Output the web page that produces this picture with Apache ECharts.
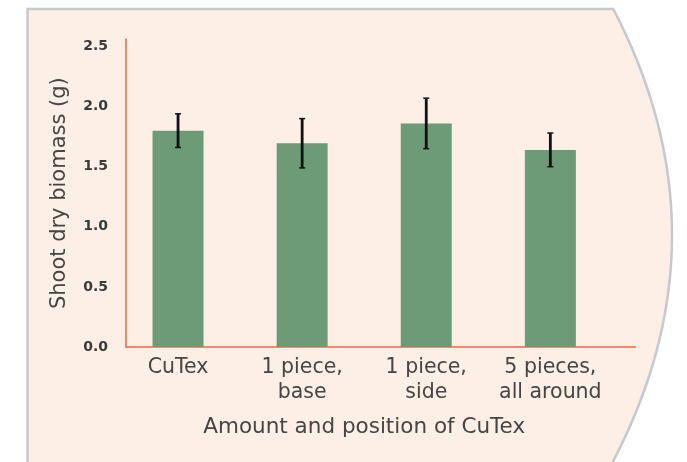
<!DOCTYPE html>
<html>
<head>
<meta charset="utf-8">
<script src="https://cdn.jsdelivr.net/npm/echarts@6/dist/echarts.min.js"></script>
<style>
  html, body { margin: 0; padding: 0; background: #ffffff; }
  #chart { width: 687px; height: 462px; }
</style>
</head>
<body>
<div id="chart"></div>
<script>
// ---- data ----
const categories = ['CuTex', '1 piece,\nbase', '1 piece,\nside', '5 pieces,\nall around'];
const biomass = [1.80, 1.695, 1.86, 1.64];
const errors = [0.14, 0.205, 0.21, 0.14];
const yTicks = [0, 0.5, 1.0, 1.5, 2.0, 2.5];

const FONT = 'DejaVu Sans';
const TEXT = '#454545';
const AXIS = '#ee6a44';
const YMAX = 2.56;

// background panel outline (decoration, not data)
const curve = [];
for (let y = 9; y <= 472; y += 4) {
  curve.push([672 - (y - 235) * (y - 235) / 870, y]);
}
const outline = [[27.5, 472], [27.5, 9]].concat(curve);

const chart = echarts.init(document.getElementById('chart'), null, { renderer: 'canvas' });

const errData = biomass.map((m, i) => [i, m, errors[i]]);

const option = {
  backgroundColor: '#ffffff',
  animation: false,
  graphic: [
    {
      type: 'polygon', z: -10, silent: true,
      shape: { points: outline },
      style: { fill: '#fdeee6' }
    },
    {
      type: 'polyline', z: -9, silent: true,
      shape: { points: outline },
      style: { fill: null, stroke: '#c3c9cc', lineWidth: 2.5 }
    }
  ],
  grid: [
    { left: 116, width: 496.4, top: 39.3, bottom: 115 },
    { left: 126, right: 51.5, top: 39.3, bottom: 115 }
  ],
  xAxis: [
    {
      type: 'category', gridIndex: 0, data: categories,
      axisLine: { show: false }, axisTick: { show: false },
      axisLabel: {
        margin: 8, color: TEXT, fontFamily: FONT, fontSize: 20.5, lineHeight: 25, interval: 0
      },
      name: 'Amount and position of CuTex',
      nameLocation: 'middle', nameGap: 69,
      nameTextStyle: { color: TEXT, fontFamily: FONT, fontSize: 21.5 }
    },
    {
      type: 'value', gridIndex: 1, min: 0, max: 1,
      axisLine: { show: true, lineStyle: { color: AXIS, width: 1.5 } },
      axisTick: { show: false }, axisLabel: { show: false }, splitLine: { show: false }
    }
  ],
  yAxis: [
    {
      type: 'value', gridIndex: 0, min: 0, max: YMAX,
      show: false, splitLine: { show: false }
    },
    {
      type: 'value', gridIndex: 1, min: 0, max: YMAX, interval: 0.5,
      axisLine: { show: true, lineStyle: { color: AXIS, width: 1.5 } },
      axisTick: { show: false }, splitLine: { show: false },
      axisLabel: {
        margin: 18, color: '#3a3a3a', fontFamily: FONT, fontSize: 14, fontWeight: 600,
        formatter: v => {
          const hit = yTicks.find(t => Math.abs(t - v) < 1e-6);
          return hit === undefined ? '' : hit.toFixed(1);
        }
      },
      name: 'Shoot dry biomass (g)',
      nameLocation: 'middle', nameGap: 56,
      nameTextStyle: { color: TEXT, fontFamily: FONT, fontSize: 21 }
    }
  ],
  series: [
    {
      type: 'bar', xAxisIndex: 0, yAxisIndex: 0,
      data: biomass, barWidth: 51,
      itemStyle: { color: '#6d9b77' }
    },
    {
      type: 'custom', xAxisIndex: 0, yAxisIndex: 0, z: 5,
      data: errData,
      renderItem: function (params, api) {
        const x = api.value(0), m = api.value(1), e = api.value(2);
        const hi = api.coord([x, m + e]);
        const lo = api.coord([x, m - e]);
        const cap = 3;
        return {
          type: 'group',
          children: [
            { type: 'line', shape: { x1: hi[0], y1: hi[1], x2: lo[0], y2: lo[1] }, style: { stroke: '#111111', lineWidth: 2.8 } },
            { type: 'line', shape: { x1: hi[0] - cap, y1: hi[1], x2: hi[0] + cap, y2: hi[1] }, style: { stroke: '#111111', lineWidth: 1.5 } },
            { type: 'line', shape: { x1: lo[0] - cap, y1: lo[1], x2: lo[0] + cap, y2: lo[1] }, style: { stroke: '#111111', lineWidth: 1.5 } }
          ]
        };
      }
    }
  ]
};

chart.setOption(option);
</script>
</body>
</html>
